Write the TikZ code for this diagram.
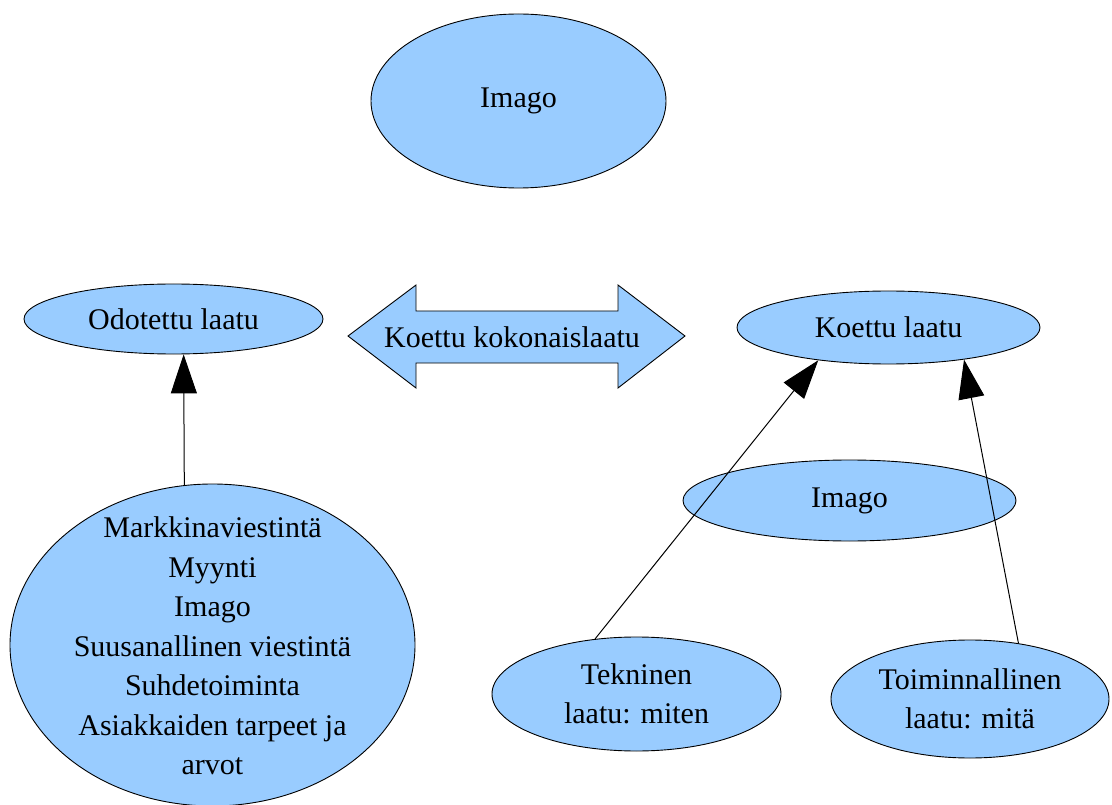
\documentclass[tikz,border=0pt]{standalone}
\usepackage{fontspec}
\setmainfont{Liberation Serif}
\newfontfamily\diagfont{Liberation Serif}
\usepackage{xcolor}
\usetikzlibrary{shapes.geometric, arrows.meta}
\definecolor{bubblefill}{RGB}{153,204,255}
\tikzstyle{bubble} = [ellipse, draw=black, fill=bubblefill,
    line width=0.9pt, inner sep=0pt, align=center,
    font=\diagfont\fontsize{30}{39.5}\selectfont]
\tikzstyle{txt} = [inner sep=0pt, align=center,
    font=\diagfont\fontsize{30}{39.5}\selectfont]
\tikzstyle{arrow} = [line width=1pt, -{Triangle[length=39pt,width=26pt]}]

\begin{document}
\begin{tikzpicture}[x=1pt, y=-1pt]
  \useasboundingbox (0,0) rectangle (1112,805);

  \node (imagotop) [bubble, minimum width=295pt, minimum height=174pt] at (518.5,101) {Imago};
  \node (odot)     [bubble, minimum width=299pt, minimum height=70pt]  at (173.5,319) {Odotettu laatu};
  \node (koettu)   [bubble, minimum width=303pt, minimum height=73pt]  at (888.5,327.5) {Koettu laatu};
  \node (imagomid) [bubble, minimum width=333pt, minimum height=81pt]  at (849.5,500.5) {Imago};
  \node (markk)    [bubble, minimum width=405pt, minimum height=322pt] at (212.5,645) {};
  \node (markktxt) [txt] at (212.5,646) {Markkinaviestintä\\ Myynti\\ Imago\\
      Suusanallinen viestintä\\ Suhdetoiminta\\ Asiakkaiden tarpeet ja\\ arvot};
  \node (tekn)     [bubble, minimum width=289pt, minimum height=114pt] at (636.5,694) {Tekninen\\ laatu: miten};
  \node (toim)     [bubble, minimum width=278pt, minimum height=118pt] at (970,699) {Toiminnallinen\\ laatu: mitä};

  % double arrow in the middle
  \draw[line width=0.9pt, fill=bubblefill] (348,336) -- (416,285) -- (416,311) -- (618,311)
    -- (618,285) -- (685,336) -- (618,388) -- (618,363) -- (416,363) -- (416,388) -- cycle;
  \node (koko) [txt] at (512,337) {Koettu kokonaislaatu};

  \draw[arrow] (markk.100.6) -- (odot.-74.8);
  \draw[arrow] (tekn.127.2)  -- (koettu.-155);
  \draw[arrow] (toim.49.7)   -- (koettu.-23.8);
\end{tikzpicture}
\end{document}
